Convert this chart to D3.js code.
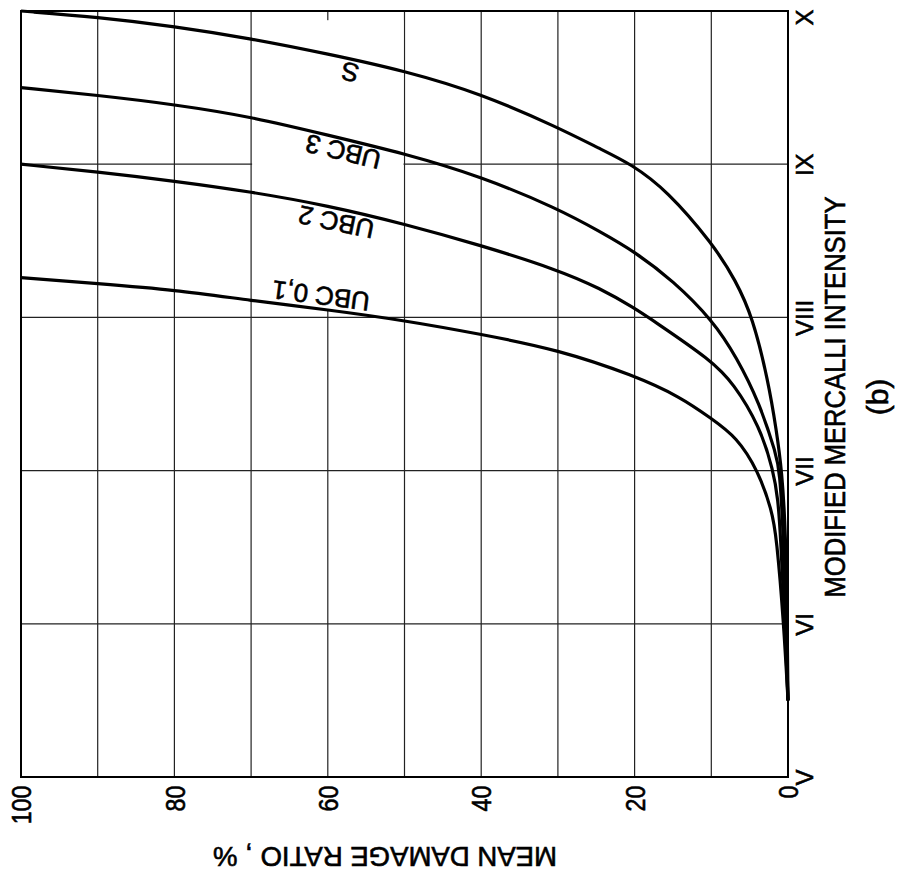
<!DOCTYPE html>
<html>
<head>
<meta charset="utf-8">
<script src="https://cdn.jsdelivr.net/npm/d3@7"></script>
<style>
    html, body { margin: 0; padding: 0; background: #fff; }
    svg { display: block; font-family: 'Liberation Sans', Arial, sans-serif; }
    svg text { fill: #000; stroke: #000; stroke-width: 0.6px; }
</style>
</head>
<body>
<svg id="chart" width="898" height="877"></svg>
<script>
// axis ticks
const intensityTicks = [5, 6, 7, 8, 9, 10]
const intensityLabels = ['V', 'VI', 'VII', 'VIII', 'IX', 'X']
const damageTicks = [0, 20, 40, 60, 80, 100]
const damageGrid = [0, 10, 20, 30, 40, 50, 60, 70, 80, 90, 100]

// curves: MMI intensity -> mean damage ratio (%)
const sIntensity   = [5.5, 6.0, 6.6, 7.0, 7.26, 7.59, 8.0, 8.24, 8.48, 8.83, 9.0, 9.10, 9.24, 9.46, 9.61, 9.72, 9.82, 9.90, 9.96, 10.0]
const sDamage      = [0, 0.1, 0.3, 0.8, 1.5, 2.6, 4.6, 6.8, 9.8, 15.8, 20.4, 24.5, 30, 40, 50, 60, 70, 80, 90, 100]

const ubc3Intensity = [5.5, 6.0, 6.6, 7.0, 7.1, 7.44, 7.74, 7.98, 8.24, 8.43, 8.56, 8.71, 8.92, 9.07, 9.19, 9.31, 9.39, 9.45, 9.50]
const ubc3Damage    = [0, 0.3, 0.6, 1.1, 1.5, 3.7, 6.7, 9.8, 15, 20, 24.5, 30, 40, 50, 60, 70, 80, 90, 100]

const ubc2Intensity = [5.5, 6.0, 6.6, 6.81, 7.0, 7.29, 7.57, 7.72, 7.98, 8.06, 8.19, 8.31, 8.47, 8.61, 8.73, 8.82, 8.89, 8.95, 9.0]
const ubc2Damage    = [0, 0.4, 1.0, 1.3, 1.9, 3.7, 7.1, 10, 17.6, 20, 24.5, 30, 40, 50, 60, 70, 80, 90, 100]

const ubc01Intensity = [5.5, 6.0, 6.57, 6.74, 7.0, 7.22, 7.34, 7.48, 7.62, 7.79, 7.89, 7.98, 8.05, 8.11, 8.18, 8.22, 8.26]
const ubc01Damage    = [0, 0.55, 1.5, 2.1, 3.9, 6.7, 10, 14, 20, 30, 40, 50, 60, 70, 80, 90, 100]

// curve labels: text, damage (%), intensity where the label sits
const labelNames     = ['S', 'UBC 3', 'UBC 2', 'UBC 0,1']
const labelDamage    = [57.1, 58.0, 58.9, 60.9]
const labelIntensity = [9.60, 9.08, 8.62, 8.14]

// blank area around the labels (grid lines are interrupted there)
const gapDamage = [50, 70]
const gapIntensity = [8.05, 9.94]

const series = [
    {name: 'S', intensity: sIntensity, damage: sDamage},
    {name: 'UBC 3', intensity: ubc3Intensity, damage: ubc3Damage},
    {name: 'UBC 2', intensity: ubc2Intensity, damage: ubc2Damage},
    {name: 'UBC 0,1', intensity: ubc01Intensity, damage: ubc01Damage}
]

const svg = d3.select('#chart')

// the figure is printed rotated: damage runs right->left, intensity bottom->top
const x = d3.scaleLinear().domain([0, 100]).range([788, 21])
const y = d3.scaleLinear().domain([5, 10]).range([777, 11])

const grid = svg.append('g').attr('stroke', '#222').attr('stroke-width', 1.2)
grid.selectAll('.vgrid').data(damageGrid).enter()
    .append('line')
        .attr('x1', (d) => x(d)).attr('x2', (d) => x(d))
        .attr('y1', y(5)).attr('y2', y(10))
grid.selectAll('.hgrid').data(intensityTicks).enter()
    .append('line')
        .attr('x1', x(0)).attr('x2', x(100))
        .attr('y1', (d) => y(d)).attr('y2', (d) => y(d))

svg.append('rect')
    .attr('x', x(gapDamage[1]) + 1)
    .attr('y', y(gapIntensity[1]))
    .attr('width', x(gapDamage[0]) - x(gapDamage[1]) - 2)
    .attr('height', y(gapIntensity[0]) - y(gapIntensity[1]))
    .attr('fill', '#fff')

const line = d3.line()
    .x((d) => x(d.d))
    .y((d) => y(d.i))
    .curve(d3.curveBasis)

series.forEach((s) => {
    s.points = s.intensity.map((v, k) => ({i: v, d: s.damage[k]})).reverse()
    svg.append('path')
        .datum(s.points)
        .attr('d', line)
        .attr('fill', 'none')
        .attr('stroke', '#000')
        .attr('stroke-width', 3.2)
        .attr('stroke-linejoin', 'round')
})

// labels follow the slope of their curve between 50 % and 70 %
labelNames.forEach((name, k) => {
    const pts = series[k].points
    const a = pts.find((p) => p.d === 50)
    const b = pts.find((p) => p.d === 70)
    const ang = Math.atan2(y(a.i) - y(b.i), x(a.d) - x(b.d)) * 180 / Math.PI
    svg.append('text')
        .attr('transform', `translate(${x(labelDamage[k])},${y(labelIntensity[k])}) rotate(${180 + ang})`)
        .attr('text-anchor', 'middle')
        .attr('dy', '0.36em')
        .attr('font-size', 26)
        .text(name)
})

// frame
svg.append('rect')
    .attr('x', x(100)).attr('y', y(10))
    .attr('width', x(0) - x(100)).attr('height', y(5) - y(10))
    .attr('fill', 'none').attr('stroke', '#000').attr('stroke-width', 2)

// damage axis (bottom), labels rotated
const xAxis = svg.append('g')
    .attr('transform', `translate(0,${y(5)})`)
    .call(d3.axisBottom(x).tickValues(damageTicks).tickSize(0).tickFormat(d3.format('d')))
xAxis.select('.domain').remove()
xAxis.selectAll('text')
    .attr('transform', 'rotate(-90) scale(0.86,1)')
    .attr('x', -10).attr('y', 0).attr('dy', '0.36em')
    .attr('text-anchor', 'end')
    .attr('font-size', 27)
    .attr('font-family', null)
    .attr('fill', null)

// intensity axis (right), roman numerals
const yAxis = svg.append('g')
    .attr('transform', `translate(${x(0)},0)`)
    .call(d3.axisRight(y).tickValues(intensityTicks).tickSize(0)
        .tickFormat((d) => intensityLabels[intensityTicks.indexOf(d)]))
yAxis.select('.domain').remove()
yAxis.selectAll('text')
    .attr('transform', 'rotate(-90)')
    .attr('x', (d) => d === 10 ? -6 : 0).attr('y', 25).attr('dy', 0)
    .attr('text-anchor', 'middle')
    .attr('font-size', 24)
    .attr('font-family', null)
    .attr('fill', null)

// axis titles
svg.append('text')
    .attr('transform', 'translate(845,397) rotate(-90)')
    .attr('text-anchor', 'middle')
    .attr('font-size', 29)
    .attr('textLength', 401)
    .attr('lengthAdjust', 'spacingAndGlyphs')
    .text('MODIFIED MERCALLI INTENSITY')

svg.append('text')
    .attr('transform', 'translate(888,397) rotate(-90)')
    .attr('text-anchor', 'middle')
    .attr('font-size', 30)
    .text('(b)')

svg.append('text')
    .attr('transform', 'translate(385,847) rotate(180)')
    .attr('text-anchor', 'middle')
    .attr('font-size', 28)
    .attr('textLength', 344)
    .attr('lengthAdjust', 'spacingAndGlyphs')
    .text('MEAN DAMAGE RATIO , %')
</script>
</body>
</html>
